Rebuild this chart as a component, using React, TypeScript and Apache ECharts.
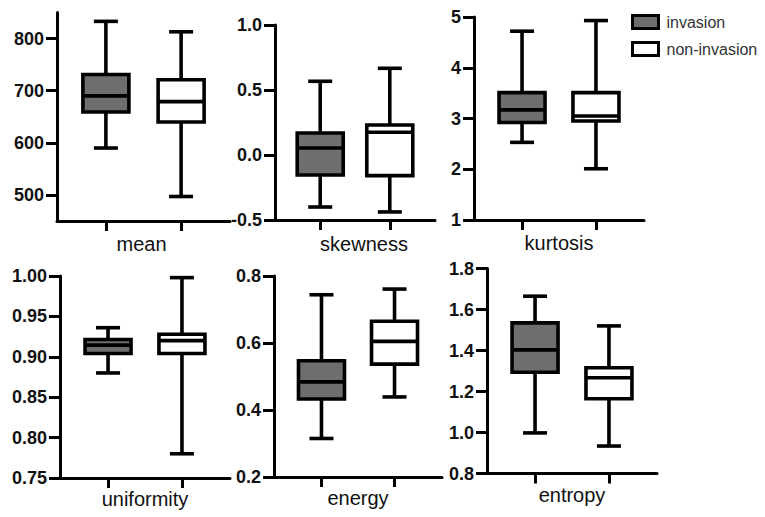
import React, { useEffect, useRef } from 'react';
import * as echarts from 'echarts';

const PANEL_NAMES = ['mean', 'skewness', 'kurtosis', 'uniformity', 'energy', 'entropy'];
const GROUP_NAMES = ['invasion', 'non-invasion'];
const GROUP_X = [1, 2];

// [min, Q1, median, Q3, max]
const meanInvasion = [590, 659, 690, 731, 833];
const meanNonInvasion = [497, 640, 679, 721, 813];
const skewnessInvasion = [-0.4, -0.154, 0.054, 0.169, 0.567];
const skewnessNonInvasion = [-0.438, -0.159, 0.175, 0.231, 0.667];
const kurtosisInvasion = [2.53, 2.92, 3.17, 3.51, 4.72];
const kurtosisNonInvasion = [2.01, 2.95, 3.05, 3.51, 4.93];
const uniformityInvasion = [0.88, 0.904, 0.9145, 0.9215, 0.936];
const uniformityNonInvasion = [0.78, 0.904, 0.92, 0.928, 0.998];
const energyInvasion = [0.315, 0.433, 0.484, 0.547, 0.744];
const energyNonInvasion = [0.439, 0.537, 0.605, 0.665, 0.761];
const entropyInvasion = [0.998, 1.294, 1.403, 1.535, 1.665];
const entropyNonInvasion = [0.934, 1.165, 1.267, 1.316, 1.52];

const INVASION = [meanInvasion, skewnessInvasion, kurtosisInvasion, uniformityInvasion, energyInvasion, entropyInvasion];
const NON_INVASION = [meanNonInvasion, skewnessNonInvasion, kurtosisNonInvasion, uniformityNonInvasion, energyNonInvasion, entropyNonInvasion];

const Y_MIN = [450, -0.5, 1, 0.75, 0.2, 0.8];
const Y_MAX = [850, 1.0, 5, 1.0, 0.8, 1.8];
const Y_TICKS = [
  [500, 600, 700, 800],
  [-0.5, 0, 0.5, 1.0],
  [1, 2, 3, 4, 5],
  [0.75, 0.8, 0.85, 0.9, 0.95, 1.0],
  [0.2, 0.4, 0.6, 0.8],
  [0.8, 1.0, 1.2, 1.4, 1.6, 1.8],
];
const Y_DECIMALS = [0, 1, 0, 2, 1, 1];

// layout (px)
const GRIDS = [
  { left: 57, top: 12.5, width: 173, height: 208.5 },
  { left: 275, top: 25, width: 160, height: 195 },
  { left: 474, top: 17, width: 170, height: 203 },
  { left: 60, top: 276, width: 170, height: 202 },
  { left: 274, top: 276, width: 168, height: 201 },
  { left: 487, top: 268.5, width: 170, height: 205 },
];
const NAME_SHIFT = [-4, 18, 0, 0, 0, 0];
const NAME_GAP = [13, 14, 13, 11, 11, 11];
const FILLS = ['#6e6e6e', '#ffffff'];
const BOX_W = 46;
const CAP_W = 24;
const LW = 3.6;

export default function App() {
  const ref = useRef<HTMLDivElement>(null);
  useEffect(() => {
    if (!ref.current) return;
    const chart = echarts.init(ref.current, null, { renderer: 'svg' });

    const renderItem = (params: any, api: any) => {
      const x = api.value(0);
      const lo = api.coord([x, api.value(1)]);
      const q1 = api.coord([x, api.value(2)]);
      const med = api.coord([x, api.value(3)]);
      const q3 = api.coord([x, api.value(4)]);
      const hi = api.coord([x, api.value(5)]);
      const cx = lo[0];
      const hb = BOX_W / 2;
      const hc = CAP_W / 2;
      const ls = { stroke: '#000', lineWidth: LW, fill: null };
      return {
        type: 'group',
        children: [
          { type: 'line', shape: { x1: cx, y1: hi[1], x2: cx, y2: q3[1] }, style: ls },
          { type: 'line', shape: { x1: cx, y1: q1[1], x2: cx, y2: lo[1] }, style: ls },
          { type: 'line', shape: { x1: cx - hc, y1: hi[1], x2: cx + hc, y2: hi[1] }, style: ls },
          { type: 'line', shape: { x1: cx - hc, y1: lo[1], x2: cx + hc, y2: lo[1] }, style: ls },
          {
            type: 'rect',
            shape: { x: cx - hb, y: q3[1], width: BOX_W, height: q1[1] - q3[1] },
            style: { fill: api.visual('color'), stroke: '#000', lineWidth: LW },
          },
          { type: 'line', shape: { x1: cx - hb, y1: med[1], x2: cx + hb, y2: med[1] }, style: ls },
        ],
      };
    };

    const grid = GRIDS.map((g) => ({ ...g, containLabel: false }));
    const xAxis = PANEL_NAMES.map((name, i) => ({
      type: 'value',
      gridIndex: i,
      min: 0.35,
      max: 2.65,
      name,
      nameLocation: 'middle',
      nameGap: NAME_GAP[i],
      nameTextStyle: {
        fontFamily: 'Liberation Sans, Arial, sans-serif',
        fontSize: 20,
        color: '#111',
        verticalAlign: 'top',
        padding: NAME_SHIFT[i] >= 0 ? [0, 0, 0, NAME_SHIFT[i]] : [0, -NAME_SHIFT[i], 0, 0],
      },
      axisLine: { show: true, onZero: false, lineStyle: { color: '#000', width: 3 } },
      axisTick: { show: true, length: 10, customValues: GROUP_X, lineStyle: { color: '#000', width: 3 } },
      axisLabel: { show: false },
      splitLine: { show: false },
    }));
    const yAxis = PANEL_NAMES.map((_, i) => ({
      type: 'value',
      gridIndex: i,
      min: Y_MIN[i],
      max: Y_MAX[i],
      axisLine: { show: true, lineStyle: { color: '#000', width: 3 } },
      axisTick: { show: true, length: 11, customValues: Y_TICKS[i], lineStyle: { color: '#000', width: 3 } },
      axisLabel: {
        show: true,
        customValues: Y_TICKS[i],
        margin: 13,
        fontFamily: 'Liberation Sans, Arial, sans-serif',
        fontWeight: 'bold',
        fontSize: 18,
        color: '#111',
        formatter: (v: number) => v.toFixed(Y_DECIMALS[i]),
      },
      splitLine: { show: false },
    }));

    const series: any[] = [];
    PANEL_NAMES.forEach((_, i) => {
      [INVASION[i], NON_INVASION[i]].forEach((vals, g) => {
        series.push({
          type: 'custom',
          name: GROUP_NAMES[g],
          xAxisIndex: i,
          yAxisIndex: i,
          itemStyle: { color: FILLS[g] },
          encode: { x: 0, y: [1, 2, 3, 4, 5] },
          renderItem,
          data: [[GROUP_X[g], ...vals]],
          silent: true,
        });
      });
    });

    chart.setOption({
      animation: false,
      backgroundColor: '#fff',
      grid,
      xAxis,
      yAxis,
      legend: {
        data: GROUP_NAMES,
        orient: 'vertical',
        left: 626,
        top: 9,
        itemWidth: 26,
        itemHeight: 13,
        itemGap: 11,
        icon: 'rect',
        itemStyle: { borderColor: '#000', borderWidth: 3 },
        textStyle: {
          fontFamily: 'Liberation Sans, Arial, sans-serif',
          fontSize: 16,
          color: '#333',
          padding: [0, 0, 0, 3],
        },
        selectedMode: false,
      },
      series,
    });
    return () => chart.dispose();
  }, []);

  return (
    <div
      ref={ref}
      style={{ position: 'fixed', left: 0, top: 0, width: 765, height: 517, background: '#fff' }}
    />
  );
}
